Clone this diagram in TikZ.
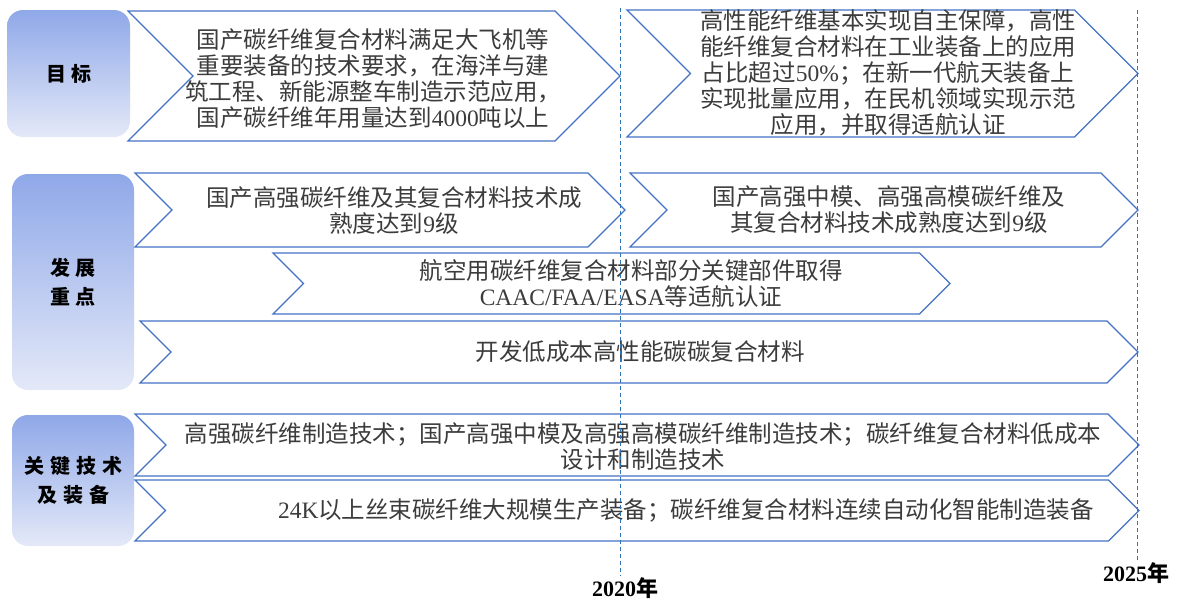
\documentclass[tikz,border=0pt]{standalone}
\usepackage{fontspec}
\setmainfont{Noto Sans CJK SC}
\newfontfamily\serifnum{Liberation Serif}
\newcommand{\lt}[1]{{\serifnum #1}}

\definecolor{chevblue}{RGB}{68,114,196}
\definecolor{dashblue}{RGB}{46,117,182}
\definecolor{boxtop}{RGB}{143,168,232}
\definecolor{boxbot}{RGB}{228,233,248}
\definecolor{txtgray}{RGB}{60,60,60}

\newcommand{\chevron}[4]{%
  \pgfmathsetmacro{\cmid}{(#3+#4)/2}
  \pgfmathsetmacro{\cdep}{(#4-#3)/2}
  \draw[chevline] (#1,#3) -- ({#2-\cdep},#3) -- (#2,\cmid) -- ({#2-\cdep},#4)
    -- (#1,#4) -- ({#1+\cdep},\cmid) -- cycle;
}

\tikzset{
  chevline/.style={draw=chevblue, line width=1.2pt, line join=miter, fill=white},
  txt/.style={align=center, text=txtgray, inner sep=0pt,
    font=\fontsize{23.5}{26}\selectfont},
  catbox/.style={rounded corners=16pt, top color=boxtop, bottom color=boxbot,
    align=center, font=\fontsize{20}{29}\selectfont\bfseries},
  yearline/.style={draw=dashblue, dash pattern=on 4pt off 3pt, line width=1pt},
  yearlbl/.style={font=\fontsize{22}{22}\selectfont\bfseries, inner sep=1pt}
}

\begin{document}
\begin{tikzpicture}[x=1pt, y=-1pt]
  \useasboundingbox (0,0) rectangle (1178,600);

  \node[catbox, minimum width=123pt, minimum height=127pt] (goal) at (68.5,73.5)
    {目\hspace{5pt}标};
  \node[catbox, minimum width=122pt, minimum height=216pt] (focus) at (73,282)
    {发\hspace{5pt}展\\重\hspace{5pt}点};
  \node[catbox, minimum width=122pt, minimum height=131pt] (tech) at (73,480.5)
    {关\hspace{6pt}键\hspace{6pt}技\hspace{6pt}术\\及\hspace{6pt}装\hspace{6pt}备};

  \chevron{128}{620}{11}{141}
  \chevron{627}{1138}{10}{137}
  \chevron{135}{625}{173}{247}
  \chevron{630}{1138}{173}{247}
  \chevron{273}{950}{253}{314}
  \chevron{140}{1138}{321}{383}
  \chevron{135}{1139}{414}{476}
  \chevron{135}{1139}{480}{541}

  \node[txt] (goalA) at (373,79)
    {国产碳纤维复合材料满足大飞机等\\重要装备的技术要求，在海洋与建\\筑工程、新能源整车制造示范应用，\\国产碳纤维年用量达到\lt{4000}吨以上};
  \node[txt] (goalB) at (888,73)
    {高性能纤维基本实现自主保障，高性\\能纤维复合材料在工业装备上的应用\\占比超过\lt{50\%}；在新一代航天装备上\\实现批量应用，在民机领域实现示范\\应用，并取得适航认证};
  \node[txt] (focusA) at (394,211)
    {国产高强碳纤维及其复合材料技术成\\熟度达到\lt{9}级};
  \node[txt] (focusB) at (889,210)
    {国产高强中模、高强高模碳纤维及\\其复合材料技术成熟度达到\lt{9}级};
  \node[txt] (focusC) at (631,284)
    {航空用碳纤维复合材料部分关键部件取得\\\lt{CAAC/FAA/EASA}等适航认证};
  \node[txt] (focusD) at (640,352) {开发低成本高性能碳碳复合材料};
  \node[txt] (techA) at (643,447)
    {高强碳纤维制造技术；国产高强中模及高强高模碳纤维制造技术；碳纤维复合材料低成本\\设计和制造技术};
  \node[txt] (techB) at (686,510)
    {\lt{24K}以上丝束碳纤维大规模生产装备；碳纤维复合材料连续自动化智能制造装备};

  \coordinate (top20) at (620,8);
  \coordinate (top25) at (1137,10);
  \node[yearlbl] (y20) at (625,588) {\lt{2020}年};
  \node[yearlbl] (y25) at (1136,573) {\lt{2025}年};
  \draw[yearline] (top20) -- (top20 |- y20.north);
  \draw[yearline] (top25) -- (top25 |- y25.north);
\end{tikzpicture}
\end{document}
